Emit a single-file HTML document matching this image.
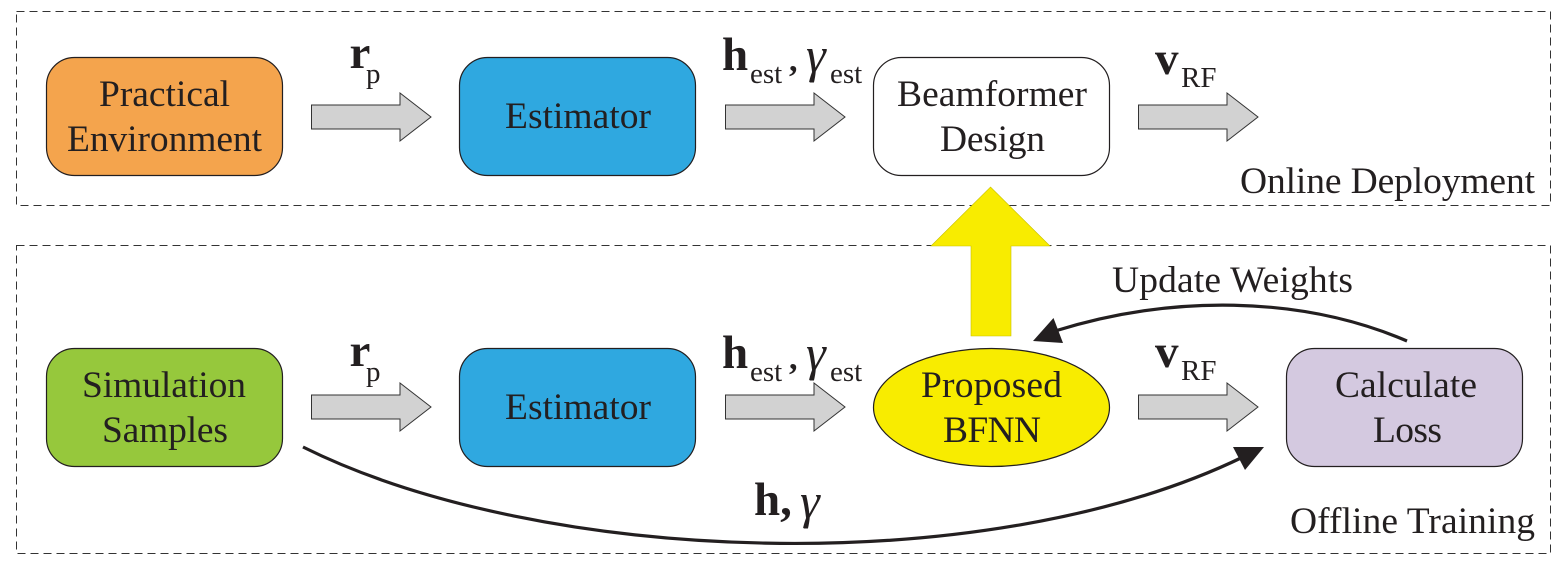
<!DOCTYPE html>
<html><head><meta charset="utf-8"><style>
html,body{margin:0;padding:0;background:#fff}
svg{display:block}
text{font-family:"Liberation Serif",serif;fill:#231f20}
.t{font-size:37.5px}
.b{font-weight:bold;font-size:47px}
.c{font-weight:bold;font-size:34px}
.s{font-size:29px}
.g{font-style:italic;font-size:50px}
</style></head><body>
<svg width="1564" height="565" viewBox="0 0 1564 565" xmlns="http://www.w3.org/2000/svg">
<rect x="16.5" y="11.5" width="1534" height="194" fill="none" stroke="#333" stroke-width="1" stroke-dasharray="8 5"/>
<rect x="16.5" y="245.5" width="1534" height="308" fill="none" stroke="#333" stroke-width="1" stroke-dasharray="8 5"/>

<g stroke="#231f20" stroke-width="1.2">
<rect x="46.5" y="57.5" width="236" height="118" rx="28" fill="#f4a44d"/>
<rect x="459.5" y="57.5" width="236" height="118" rx="28" fill="#2fa8e0"/>
<rect x="873.5" y="57.5" width="236" height="118" rx="28" fill="#fff"/>
<rect x="46.5" y="348.5" width="236" height="118" rx="28" fill="#96c83c"/>
<rect x="459.5" y="348.5" width="236" height="118" rx="28" fill="#2fa8e0"/>
<rect x="1286.5" y="348.5" width="236" height="118" rx="28" fill="#d4c9e0"/>
<polygon points="990.5,187 1050,246 1011,246 1011,336 971,336 971,246 931,246" fill="#f8ec00" stroke="#c8c000" stroke-width="0.6"/>
<ellipse cx="991.5" cy="407.5" rx="118" ry="59" fill="#f8ec00"/>
</g>

<g fill="#d2d2d2" stroke="#333" stroke-width="1">
<polygon points="311.5,105 400,105 400,93 431,117 400,141 400,129 311.5,129"/>
<polygon points="725.5,105 814,105 814,93 845,117 814,141 814,129 725.5,129"/>
<polygon points="1138.5,105 1227,105 1227,93 1258,117 1227,141 1227,129 1138.5,129"/>
<polygon points="311.5,395 400,395 400,383 431,407 400,431 400,419 311.5,419"/>
<polygon points="725.5,395 814,395 814,383 845,407 814,431 814,419 725.5,419"/>
<polygon points="1138.5,395 1227,395 1227,383 1258,407 1227,431 1227,419 1138.5,419"/>
</g>

<path d="M1407,341 C1300,295 1170,295 1055,331" fill="none" stroke="#231f20" stroke-width="3.2"/>
<polygon points="1033,341 1053.5,318 1063,343" fill="#231f20"/>
<path d="M303,447 C540,565 985,582 1243,457" fill="none" stroke="#231f20" stroke-width="3.2"/>
<polygon points="1264,447 1233,447 1245,470" fill="#231f20"/>

<text class="t" x="99" y="106" textLength="131">Practical</text>
<text class="t" x="67" y="151" textLength="195">Environment</text>
<text class="t" x="505" y="128" textLength="146">Estimator</text>
<text class="t" x="897" y="106" textLength="190">Beamformer</text>
<text class="t" x="940" y="151" textLength="105">Design</text>
<text class="t" x="82" y="397" textLength="164">Simulation</text>
<text class="t" x="102" y="442" textLength="126">Samples</text>
<text class="t" x="505" y="419" textLength="146">Estimator</text>
<text class="t" x="921" y="397" textLength="141">Proposed</text>
<text class="t" x="943" y="442" textLength="98">BFNN</text>
<text class="t" x="1335" y="397" textLength="142">Calculate</text>
<text class="t" x="1373" y="442" textLength="69">Loss</text>
<text class="t" x="1112" y="292" textLength="241">Update Weights</text>
<text class="t" x="1240" y="193" textLength="295">Online Deployment</text>
<text class="t" x="1290" y="533" textLength="245">Offline Training</text>

<text class="b" x="349.5" y="68">r</text><text class="s" x="366" y="83">p</text>
<text class="b" x="722" y="70">h</text><text class="s" x="750" y="83">est</text>
<text class="c" x="789" y="71">,</text>
<text class="g" x="806" y="72">γ</text><text class="s" x="830" y="83">est</text>
<text class="b" x="1155" y="74">v</text><text class="s" x="1181" y="87">RF</text>

<text class="b" x="349.5" y="366">r</text><text class="s" x="366" y="381">p</text>
<text class="b" x="722" y="368">h</text><text class="s" x="750" y="381">est</text>
<text class="c" x="789" y="369">,</text>
<text class="g" x="806" y="370">γ</text><text class="s" x="830" y="381">est</text>
<text class="b" x="1155" y="367">v</text><text class="s" x="1181" y="380">RF</text>

<text class="b" x="754" y="515">h,</text>
<text class="g" x="800" y="518">γ</text>
</svg>
</body></html>
